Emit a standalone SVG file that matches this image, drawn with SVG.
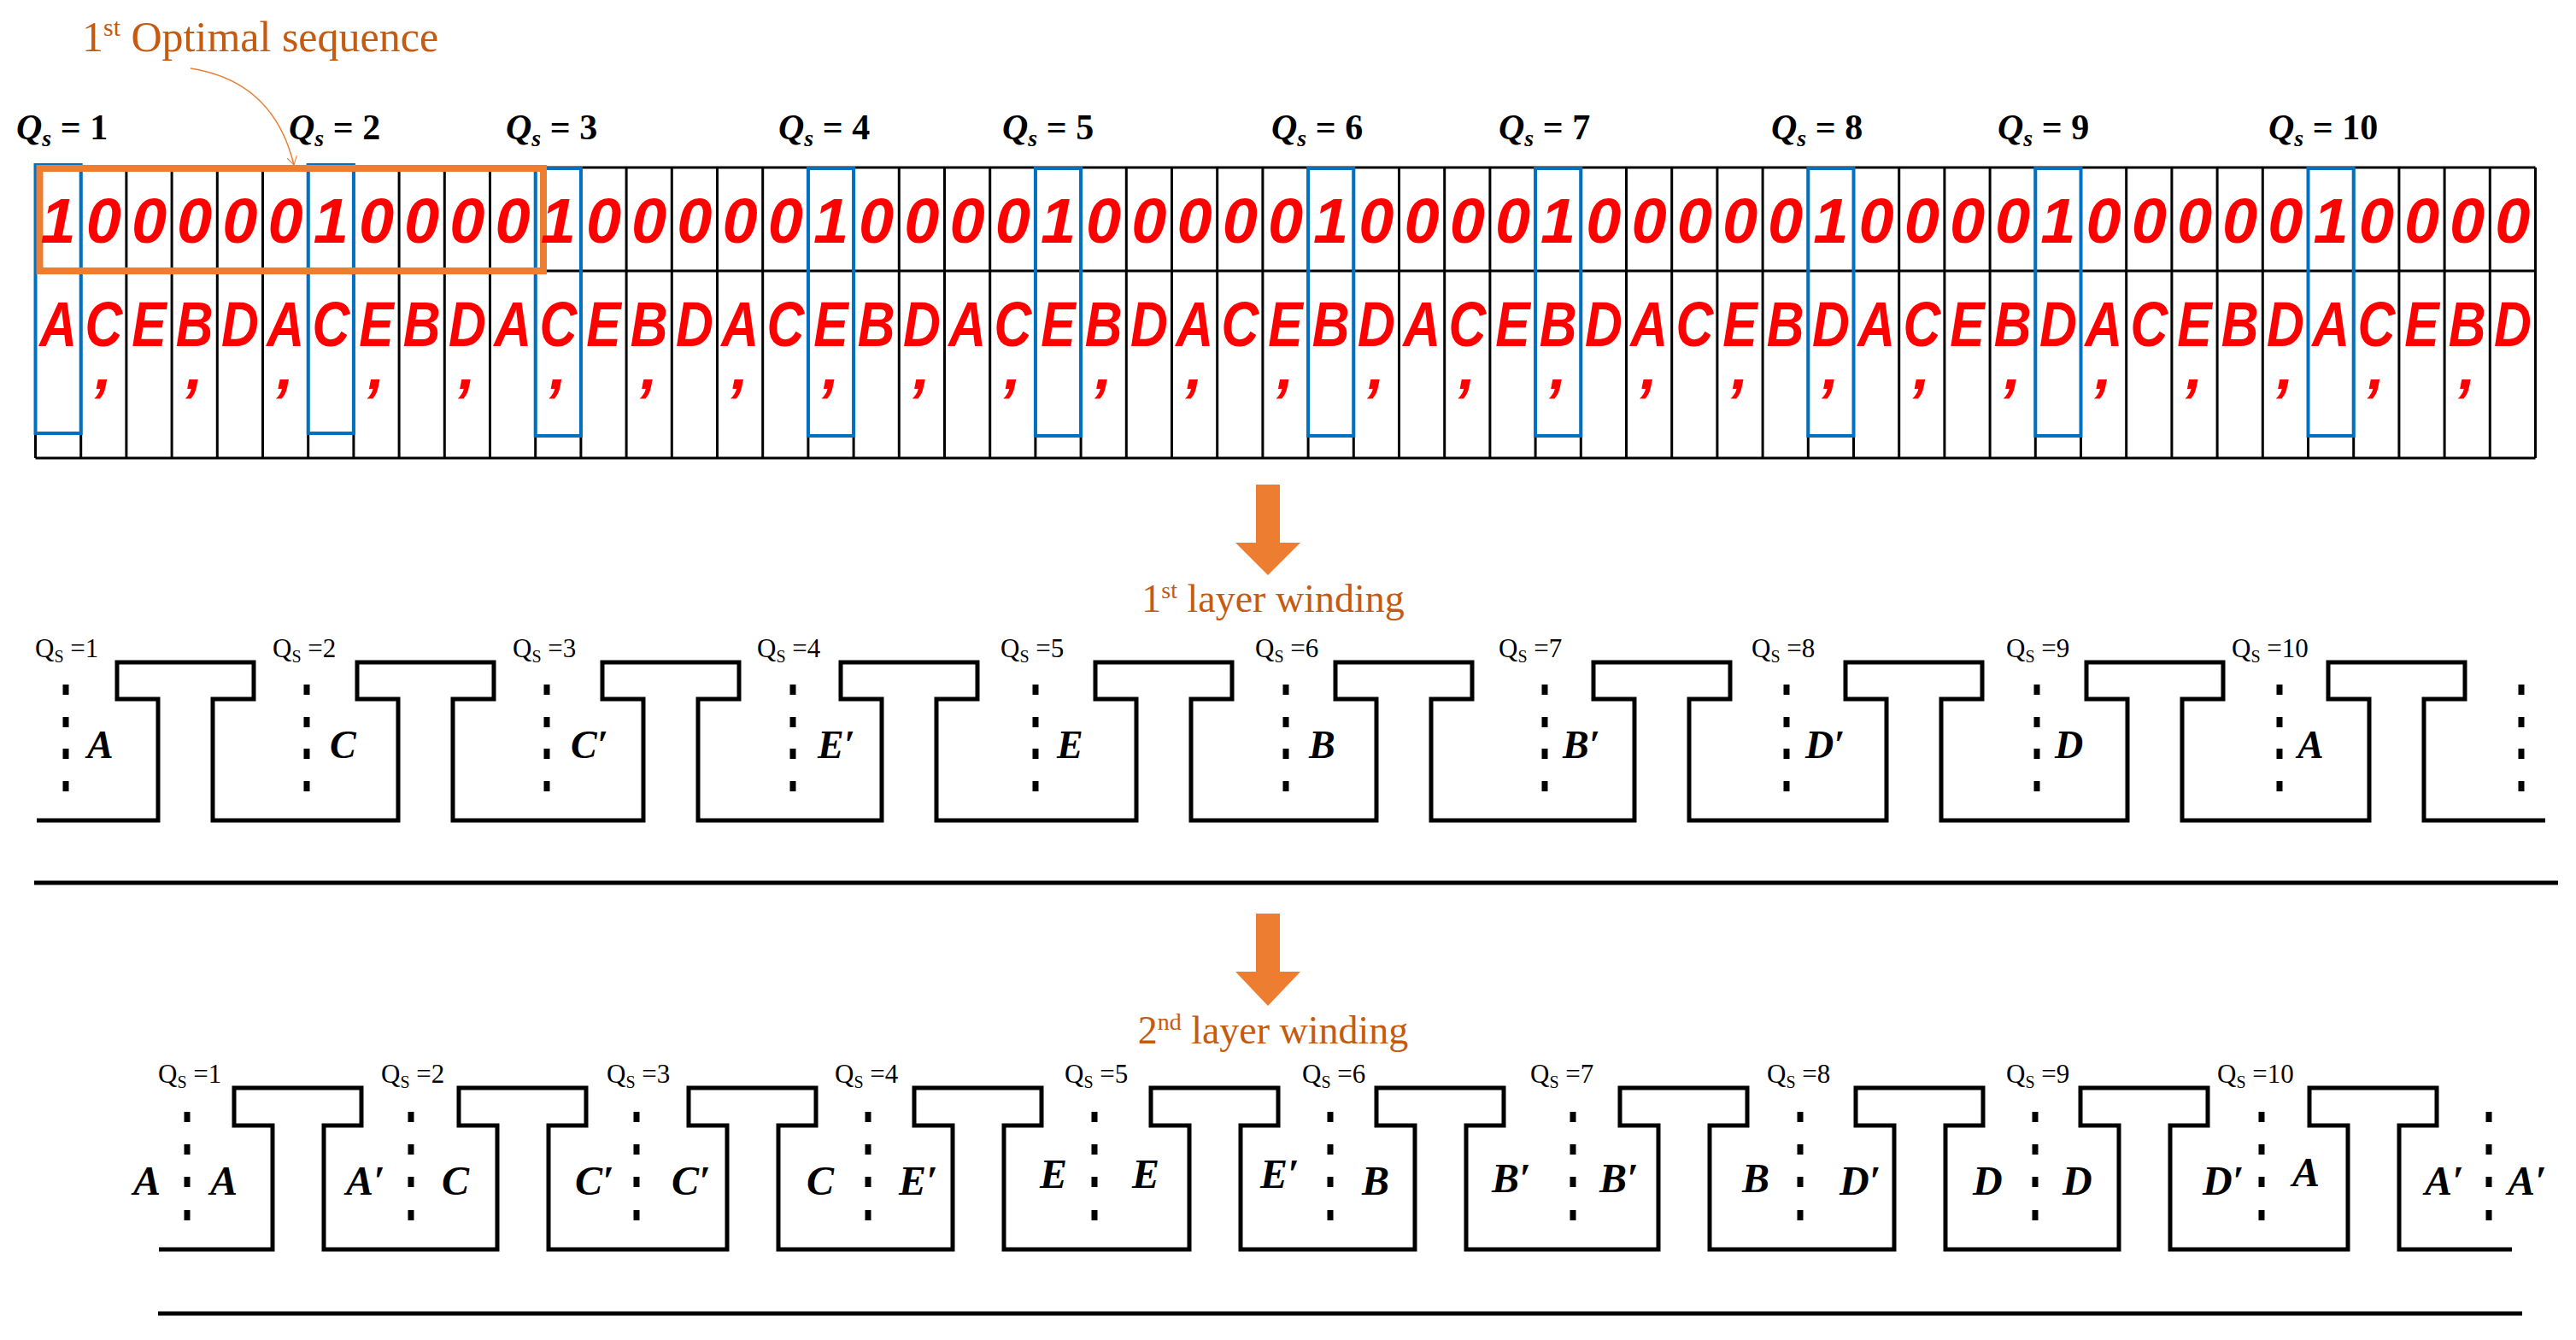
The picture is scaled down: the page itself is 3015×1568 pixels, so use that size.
<svg xmlns="http://www.w3.org/2000/svg" xmlns:xlink="http://www.w3.org/1999/xlink" width="3015" height="1568" viewBox="0 0 3015 1568">
<style>
.or{fill:#C55A11;font-family:"Liberation Serif",serif}
.qt{font-family:"Liberation Serif",serif;font-size:42px;font-weight:bold}
.qs{font-family:"Liberation Serif",serif;font-size:31px}
.dig{font-family:"Liberation Sans",sans-serif;font-size:74px;font-weight:bold;font-style:italic;fill:#FF0000}
.let{font-family:"Liberation Serif",serif;font-weight:bold;font-style:italic;fill:#000}
.tooth{fill:none;stroke:#000;stroke-width:5}
.blue{fill:none;stroke:#0070C0;stroke-width:4}
</style>
<defs>
<g id="d1"><rect x="-3.5" y="801" width="7" height="12"/><rect x="-3.5" y="839" width="7" height="12"/><rect x="-3.5" y="876" width="7" height="12"/><rect x="-3.5" y="914" width="7" height="12"/></g>
<g id="d2"><rect x="-3.5" y="1301" width="7" height="12"/><rect x="-3.5" y="1339" width="7" height="12"/><rect x="-3.5" y="1377" width="7" height="12"/><rect x="-3.5" y="1416" width="7" height="12"/></g>
<marker id="ah" markerWidth="12" markerHeight="12" refX="10" refY="6" orient="auto" markerUnits="userSpaceOnUse"><path d="M0,0 L10,6 L0,12" fill="none" stroke="#ED7D31" stroke-width="1"/></marker>
</defs>

<g id="title"><text class="or" x="96" y="60" font-size="50">1<tspan font-size="30" dy="-18">st</tspan><tspan dy="18"> Optimal sequence</tspan></text></g>

<g id="top-labels" class="qt">
<text x="19" y="163"><tspan font-style="italic">Q</tspan><tspan font-style="italic" font-size="28" dy="8">s</tspan><tspan dy="-8"> = 1</tspan></text>
<text x="338" y="163"><tspan font-style="italic">Q</tspan><tspan font-style="italic" font-size="28" dy="8">s</tspan><tspan dy="-8"> = 2</tspan></text>
<text x="592" y="163"><tspan font-style="italic">Q</tspan><tspan font-style="italic" font-size="28" dy="8">s</tspan><tspan dy="-8"> = 3</tspan></text>
<text x="911" y="163"><tspan font-style="italic">Q</tspan><tspan font-style="italic" font-size="28" dy="8">s</tspan><tspan dy="-8"> = 4</tspan></text>
<text x="1173" y="163"><tspan font-style="italic">Q</tspan><tspan font-style="italic" font-size="28" dy="8">s</tspan><tspan dy="-8"> = 5</tspan></text>
<text x="1488" y="163"><tspan font-style="italic">Q</tspan><tspan font-style="italic" font-size="28" dy="8">s</tspan><tspan dy="-8"> = 6</tspan></text>
<text x="1754" y="163"><tspan font-style="italic">Q</tspan><tspan font-style="italic" font-size="28" dy="8">s</tspan><tspan dy="-8"> = 7</tspan></text>
<text x="2073" y="163"><tspan font-style="italic">Q</tspan><tspan font-style="italic" font-size="28" dy="8">s</tspan><tspan dy="-8"> = 8</tspan></text>
<text x="2338" y="163"><tspan font-style="italic">Q</tspan><tspan font-style="italic" font-size="28" dy="8">s</tspan><tspan dy="-8"> = 9</tspan></text>
<text x="2655" y="163"><tspan font-style="italic">Q</tspan><tspan font-style="italic" font-size="28" dy="8">s</tspan><tspan dy="-8"> = 10</tspan></text>
</g>

<g id="table">
<path fill="none" stroke="#000" stroke-width="3" d="M41.5,196H2967.5M41.5,317H2967.5M41.5,536H2967.5 M41.5,196V536M94.7,196V536M147.9,196V536M201.1,196V536M254.3,196V536M307.5,196V536M360.7,196V536M413.9,196V536M467.1,196V536M520.3,196V536M573.5,196V536M626.7,196V536M679.9,196V536M733.1,196V536M786.3,196V536M839.5,196V536M892.7,196V536M945.9,196V536M999.1,196V536M1052.3,196V536M1105.5,196V536M1158.7,196V536M1211.9,196V536M1265.1,196V536M1318.3,196V536M1371.5,196V536M1424.7,196V536M1477.9,196V536M1531.1,196V536M1584.3,196V536M1637.5,196V536M1690.7,196V536M1743.9,196V536M1797.1,196V536M1850.3,196V536M1903.5,196V536M1956.7,196V536M2009.9,196V536M2063.1,196V536M2116.3,196V536M2169.5,196V536M2222.7,196V536M2275.9,196V536M2329.1,196V536M2382.3,196V536M2435.5,196V536M2488.7,196V536M2541.9,196V536M2595.1,196V536M2648.3,196V536M2701.5,196V536M2754.7,196V536M2807.9,196V536M2861.1,196V536M2914.3,196V536M2967.5,196V536"/>
<g class="blue">
<rect x="41.5" y="193" width="53.2" height="314"/><rect x="360.7" y="193" width="53.2" height="314"/><rect x="626.7" y="197" width="53.2" height="313"/><rect x="945.9" y="197" width="53.2" height="313"/><rect x="1211.9" y="197" width="53.2" height="313"/><rect x="1531.1" y="197" width="53.2" height="313"/><rect x="1797.1" y="197" width="53.2" height="313"/><rect x="2116.3" y="197" width="53.2" height="313"/><rect x="2382.3" y="197" width="53.2" height="313"/><rect x="2701.5" y="197" width="53.2" height="313"/>
</g>
<rect x="46.5" y="197" width="589.5" height="120" fill="none" stroke="#ED7D31" stroke-width="8"/>
<text class="dig" text-anchor="middle" y="284" x="68.1 121.3 174.5 227.7 280.9 334.1 387.3 440.5 493.7 546.9 600.1 653.3 706.5 759.7 812.9 866.1 919.3 972.5 1025.7 1078.9 1132.1 1185.3 1238.5 1291.7 1344.9 1398.1 1451.3 1504.5 1557.7 1610.9 1664.1 1717.3 1770.5 1823.7 1876.9 1930.1 1983.3 2036.5 2089.7 2142.9 2196.1 2249.3 2302.5 2355.7 2408.9 2462.1 2515.3 2568.5 2621.7 2674.9 2728.1 2781.3 2834.5 2887.7 2940.9">1000001000010000010000100000100001000001000010000010000</text>
<text class="dig" text-anchor="middle" y="405" transform="scale(0.82,1)" x="83.05 147.93 212.81 277.68 342.56 407.44 472.32 537.20 602.07 666.95 731.83 796.71 861.59 926.46 991.34 1056.22 1121.10 1185.98 1250.85 1315.73 1380.61 1445.49 1510.37 1575.24 1640.12 1705.00 1769.88 1834.76 1899.63 1964.51 2029.39 2094.27 2159.15 2224.02 2288.90 2353.78 2418.66 2483.54 2548.41 2613.29 2678.17 2743.05 2807.93 2872.80 2937.68 3002.56 3067.44 3132.32 3197.19 3262.07 3326.95 3391.83 3456.71 3521.58 3586.46">ACEBDACEBDACEBDACEBDACEBDACEBDACEBDACEBDACEBDACEBDACEBD</text>
<text class="dig" text-anchor="middle" y="455" x="121.3 227.7 334.1 440.5 546.9 653.3 759.7 866.1 972.5 1078.9 1185.3 1291.7 1398.1 1504.5 1610.9 1717.3 1823.7 1930.1 2036.5 2142.9 2249.3 2355.7 2462.1 2568.5 2674.9 2781.3 2887.7">,,,,,,,,,,,,,,,,,,,,,,,,,,,</text>
</g>

<g id="connectors">
<path d="M223,80 Q320,95 344,193" fill="none" stroke="#ED7D31" stroke-width="1.5" marker-end="url(#ah)"/>
<path d="M1470,567 H1498 V635 H1522 L1484,673 L1446,635 H1470 Z" fill="#ED7D31"/>
<path d="M1470,1069 H1498 V1137 H1522 L1484,1177 L1446,1137 H1470 Z" fill="#ED7D31"/>
</g>

<g id="label1"><text class="or" x="1490" y="716" font-size="46" text-anchor="middle">1<tspan font-size="28" dy="-16">st</tspan><tspan dy="16"> layer winding</tspan></text></g>
<g id="label2"><text class="or" x="1490" y="1221" font-size="46" text-anchor="middle">2<tspan font-size="28" dy="-16">nd</tspan><tspan dy="16">  layer winding</tspan></text></g>

<g id="layer1">
<path class="tooth" d="M43,960 L185,960 185,818 137,818 137,775 297,775 297,818 249,818 249,960 L466,960 466,818 418,818 418,775 578,775 578,818 530,818 530,960 L753,960 753,818 705,818 705,775 865,775 865,818 817,818 817,960 L1032,960 1032,818 984,818 984,775 1144,775 1144,818 1096,818 1096,960 L1330,960 1330,818 1282,818 1282,775 1442,775 1442,818 1394,818 1394,960 L1611,960 1611,818 1563,818 1563,775 1723,775 1723,818 1675,818 1675,960 L1913,960 1913,818 1865,818 1865,775 2025,775 2025,818 1977,818 1977,960 L2208,960 2208,818 2160,818 2160,775 2320,775 2320,818 2272,818 2272,960 L2490,960 2490,818 2442,818 2442,775 2602,775 2602,818 2554,818 2554,960 L2773,960 2773,818 2725,818 2725,775 2885,775 2885,818 2837,818 2837,960 L2979,960"/>
<use xlink:href="#d1" x="77"/><use xlink:href="#d1" x="359"/><use xlink:href="#d1" x="640"/><use xlink:href="#d1" x="928"/><use xlink:href="#d1" x="1212"/><use xlink:href="#d1" x="1505"/><use xlink:href="#d1" x="1808"/><use xlink:href="#d1" x="2091"/><use xlink:href="#d1" x="2384"/><use xlink:href="#d1" x="2668"/><use xlink:href="#d1" x="2951"/>
<g class="qs">
<text x="41" y="769">Q<tspan font-size="20" dy="6">S</tspan><tspan dy="-6"> =1</tspan></text>
<text x="319" y="769">Q<tspan font-size="20" dy="6">S</tspan><tspan dy="-6"> =2</tspan></text>
<text x="600" y="769">Q<tspan font-size="20" dy="6">S</tspan><tspan dy="-6"> =3</tspan></text>
<text x="886" y="769">Q<tspan font-size="20" dy="6">S</tspan><tspan dy="-6"> =4</tspan></text>
<text x="1171" y="769">Q<tspan font-size="20" dy="6">S</tspan><tspan dy="-6"> =5</tspan></text>
<text x="1469" y="769">Q<tspan font-size="20" dy="6">S</tspan><tspan dy="-6"> =6</tspan></text>
<text x="1754" y="769">Q<tspan font-size="20" dy="6">S</tspan><tspan dy="-6"> =7</tspan></text>
<text x="2050" y="769">Q<tspan font-size="20" dy="6">S</tspan><tspan dy="-6"> =8</tspan></text>
<text x="2348" y="769">Q<tspan font-size="20" dy="6">S</tspan><tspan dy="-6"> =9</tspan></text>
<text x="2612" y="769">Q<tspan font-size="20" dy="6">S</tspan><tspan dy="-6"> =10</tspan></text>
</g>
<g class="let" font-size="46">
<text x="102" y="887">A</text><text x="386" y="887">C</text><text x="668" y="887">C′</text><text x="957" y="887">E′</text><text x="1237" y="887">E</text><text x="1532" y="887">B</text><text x="1829" y="887">B′</text><text x="2113" y="887">D′</text><text x="2405" y="887">D</text><text x="2689" y="887">A</text>
</g>
</g>

<g id="layer2">
<path class="tooth" d="M186,1462 L319,1462 319,1317 274,1317 274,1273 423,1273 423,1317 379,1317 379,1462 L582,1462 582,1317 537,1317 537,1273 686,1273 686,1317 642,1317 642,1462 L851,1462 851,1317 806,1317 806,1273 955,1273 955,1317 911,1317 911,1462 L1115,1462 1115,1317 1070,1317 1070,1273 1219,1273 1219,1317 1175,1317 1175,1462 L1392,1462 1392,1317 1347,1317 1347,1273 1496,1273 1496,1317 1452,1317 1452,1462 L1656,1462 1656,1317 1611,1317 1611,1273 1760,1273 1760,1317 1716,1317 1716,1462 L1941,1462 1941,1317 1896,1317 1896,1273 2045,1273 2045,1317 2001,1317 2001,1462 L2217,1462 2217,1317 2172,1317 2172,1273 2321,1273 2321,1317 2277,1317 2277,1462 L2480,1462 2480,1317 2435,1317 2435,1273 2584,1273 2584,1317 2540,1317 2540,1462 L2748,1462 2748,1317 2703,1317 2703,1273 2852,1273 2852,1317 2808,1317 2808,1462 L2940,1462"/>
<use xlink:href="#d2" x="219"/><use xlink:href="#d2" x="481"/><use xlink:href="#d2" x="745"/><use xlink:href="#d2" x="1016"/><use xlink:href="#d2" x="1281"/><use xlink:href="#d2" x="1557"/><use xlink:href="#d2" x="1841"/><use xlink:href="#d2" x="2107"/><use xlink:href="#d2" x="2382"/><use xlink:href="#d2" x="2647"/><use xlink:href="#d2" x="2913"/>
<g class="qs">
<text x="185" y="1267">Q<tspan font-size="20" dy="6">S</tspan><tspan dy="-6"> =1</tspan></text>
<text x="446" y="1267">Q<tspan font-size="20" dy="6">S</tspan><tspan dy="-6"> =2</tspan></text>
<text x="710" y="1267">Q<tspan font-size="20" dy="6">S</tspan><tspan dy="-6"> =3</tspan></text>
<text x="977" y="1267">Q<tspan font-size="20" dy="6">S</tspan><tspan dy="-6"> =4</tspan></text>
<text x="1246" y="1267">Q<tspan font-size="20" dy="6">S</tspan><tspan dy="-6"> =5</tspan></text>
<text x="1524" y="1267">Q<tspan font-size="20" dy="6">S</tspan><tspan dy="-6"> =6</tspan></text>
<text x="1791" y="1267">Q<tspan font-size="20" dy="6">S</tspan><tspan dy="-6"> =7</tspan></text>
<text x="2068" y="1267">Q<tspan font-size="20" dy="6">S</tspan><tspan dy="-6"> =8</tspan></text>
<text x="2348" y="1267">Q<tspan font-size="20" dy="6">S</tspan><tspan dy="-6"> =9</tspan></text>
<text x="2595" y="1267">Q<tspan font-size="20" dy="6">S</tspan><tspan dy="-6"> =10</tspan></text>
</g>
<g class="let" font-size="48">
<text x="156" y="1398">A</text><text x="246" y="1398">A</text>
<text x="405" y="1398">A′</text><text x="517" y="1398">C</text>
<text x="673" y="1398">C′</text><text x="786" y="1398">C′</text>
<text x="944" y="1398">C</text><text x="1052" y="1398">E′</text>
<text x="1217" y="1390">E</text><text x="1325" y="1390">E</text>
<text x="1475" y="1390">E′</text><text x="1594" y="1398">B</text>
<text x="1746" y="1395">B′</text><text x="1872" y="1395">B′</text>
<text x="2039" y="1395">B</text><text x="2153" y="1398">D′</text>
<text x="2309" y="1398">D</text><text x="2414" y="1398">D</text>
<text x="2578" y="1398">D′</text><text x="2683" y="1388">A</text>
<text x="2838" y="1398">A′</text><text x="2935" y="1398">A′</text>
</g>
</g>

<g id="rules">
<line x1="40" y1="1033" x2="2994" y2="1033" stroke="#000" stroke-width="5"/>
<line x1="185" y1="1537" x2="2952" y2="1537" stroke="#000" stroke-width="5"/>
</g>
</svg>
